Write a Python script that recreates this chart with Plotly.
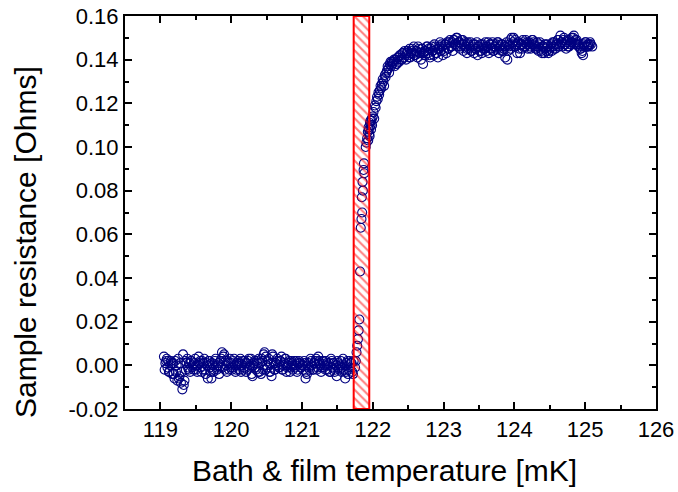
import plotly.graph_objects as go

# ---- data ----
x_normal = [
    119.05, 119.06, 119.07, 119.09, 119.10, 119.11, 119.13, 119.14, 119.15, 119.17,
    119.18, 119.20, 119.21, 119.22, 119.24, 119.25, 119.27, 119.28, 119.29, 119.31,
    119.32, 119.33, 119.35, 119.36, 119.38, 119.39, 119.41, 119.42, 119.44, 119.46,
    119.47, 119.49, 119.51, 119.52, 119.54, 119.55, 119.57, 119.59, 119.60, 119.62,
    119.64, 119.65, 119.67, 119.69, 119.70, 119.72, 119.74, 119.75, 119.77, 119.79,
    119.80, 119.82, 119.84, 119.86, 119.87, 119.89, 119.91, 119.92, 119.94, 119.96,
    119.98, 119.99, 120.01, 120.03, 120.05, 120.06, 120.08, 120.10, 120.12, 120.13,
    120.15, 120.17, 120.19, 120.21, 120.22, 120.24, 120.26, 120.28, 120.30, 120.31,
    120.33, 120.35, 120.37, 120.39, 120.40, 120.42, 120.44, 120.46, 120.48, 120.49,
    120.51, 120.53, 120.55, 120.57, 120.58, 120.60, 120.62, 120.64, 120.66, 120.67,
    120.69, 120.71, 120.73, 120.75, 120.77, 120.78, 120.80, 120.82, 120.84, 120.86,
    120.87, 120.89, 120.91, 120.93, 120.95, 120.96, 120.98, 121.00, 121.02, 121.04,
    121.05, 121.07, 121.09, 121.11, 121.13, 121.14, 121.16, 121.18, 121.20, 121.22,
    121.23, 121.25, 121.27, 121.29, 121.31, 121.32, 121.34, 121.36, 121.38, 121.40,
    121.41, 121.43, 121.45, 121.47, 121.49, 121.50, 121.52, 121.54, 121.56, 121.58,
    121.59, 121.61, 121.63, 121.65, 121.67, 121.68, 121.70, 121.72, 121.73,
    119.08, 119.12, 119.16, 119.19, 119.23, 119.26, 119.30, 119.34, 119.37, 119.40,
    119.43, 119.45, 119.48, 119.50, 119.53, 119.56, 119.58, 119.61, 119.63, 119.66,
    119.68, 119.71, 119.73, 119.76, 119.78, 119.81, 119.83, 119.85, 119.88, 119.90,
    119.93, 119.95, 119.97, 120.00, 120.02, 120.04, 120.07, 120.09, 120.11, 120.14,
    120.16, 120.18, 120.20, 120.23, 120.25, 120.27, 120.29, 120.32, 120.34, 120.36,
    120.38, 120.41, 120.43, 120.45, 120.47, 120.50, 120.52, 120.54, 120.56, 120.59,
    120.61, 120.63, 120.65, 120.68, 120.70, 120.72, 120.74, 120.76, 120.79, 120.81,
    120.83, 120.85, 120.88, 120.90, 120.92, 120.94, 120.97, 120.99, 121.01, 121.03,
    121.06, 121.08, 121.10, 121.12, 121.15, 121.17, 121.19, 121.21, 121.24, 121.26,
    121.28, 121.30, 121.33, 121.35, 121.37, 121.39, 121.42, 121.44, 121.46, 121.48,
    121.51, 121.53, 121.55, 121.57, 121.60, 121.62, 121.64, 121.66, 121.69, 121.71,
]
y_normal = [
    0.004, -0.002, 0.001, 0.003, -0.001, 0.002, -0.003, 0.000, 0.002, -0.004,
    0.001, -0.006, 0.002, -0.003, -0.007, 0.003, -0.005, 0.001, -0.008, -0.011,
    0.005, -0.009, 0.002, -0.002, 0.003, -0.001, 0.001, -0.003, 0.002, 0.000,
    -0.002, 0.003, 0.000, -0.003, 0.004, 0.001, -0.001, 0.002, -0.002, 0.003,
    -0.004, 0.001, -0.006, 0.002, -0.001, -0.006, 0.000, -0.003, 0.002, -0.001,
    -0.002, 0.001, -0.001, 0.003, 0.006, 0.004, -0.002, 0.002, -0.003, 0.001,
    0.003, -0.001, -0.002, 0.002, 0.000, -0.003, 0.001, 0.002, -0.002, 0.003,
    0.000, -0.002, 0.002, -0.003, 0.001, 0.002, -0.001, 0.003, -0.005, 0.000,
    0.002, -0.002, 0.001, 0.003, -0.003, -0.004, 0.002, 0.005, -0.002, 0.004,
    -0.001, 0.003, -0.003, -0.005, 0.005, 0.001, -0.002, 0.002, 0.000, -0.001,
    0.002, 0.004, -0.002, 0.001, 0.003, -0.003, 0.000, 0.002, -0.001, 0.001,
    -0.002, 0.002, 0.000, -0.003, 0.001, 0.002, -0.001, 0.000, -0.002, 0.001,
    -0.006, -0.004, 0.001, -0.002, 0.002, 0.000, -0.002, 0.001, 0.003, -0.001,
    0.004, 0.001, -0.003, 0.002, -0.001, 0.000, 0.002, -0.002, 0.001, -0.003,
    0.003, -0.001, 0.001, -0.002, -0.005, 0.002, -0.001, 0.000, -0.003, 0.003,
    -0.002, -0.006, 0.001, -0.004, 0.002, -0.001, 0.001, -0.004, 0.002,
    0.002, -0.003, 0.001, -0.004, 0.000, -0.006, -0.003, -0.007, 0.001, -0.002,
    0.002, -0.001, 0.001, -0.002, 0.000, 0.002, -0.003, 0.001, -0.002, 0.000,
    0.002, -0.003, 0.001, -0.002, 0.003, 0.000, -0.004, 0.002, -0.001, 0.005,
    0.000, 0.002, -0.002, 0.001, -0.001, 0.003, -0.002, 0.000, 0.001, -0.003,
    0.002, -0.001, 0.001, -0.002, 0.003, 0.000, -0.004, 0.001, -0.001, 0.002,
    -0.003, 0.001, 0.003, -0.002, 0.006, 0.000, 0.002, -0.003, 0.001, 0.004,
    -0.002, 0.001, 0.003, -0.001, 0.002, -0.002, 0.000, 0.003, -0.001, 0.001,
    -0.003, 0.002, 0.000, -0.001, 0.002, -0.002, 0.001, -0.001, 0.000, 0.002,
    -0.003, 0.000, -0.001, 0.003, -0.002, 0.001, 0.002, -0.002, 0.002, 0.000,
    -0.001, 0.002, -0.002, 0.001, 0.000, -0.003, 0.002, 0.001, -0.003, 0.000,
    0.001, -0.002, 0.002, -0.001, 0.000, -0.003, 0.002, -0.002, 0.001, -0.003,
]

x_transition = [
    121.75, 121.76, 121.77, 121.78, 121.79, 121.80, 121.81, 121.82, 121.83, 121.84,
    121.85, 121.845, 121.86, 121.855, 121.87, 121.875, 121.88, 121.90, 121.91, 121.92,
    121.93, 121.94, 121.95, 121.96, 121.97, 121.98, 121.99, 122.00, 122.02, 122.03,
    122.05, 122.06, 122.08, 122.09, 122.11, 122.12, 122.14, 122.15, 122.17, 122.18,
    122.20, 122.21, 122.23, 122.24, 122.26, 122.27,
    121.935, 121.945, 121.955, 121.965, 121.975, 121.985, 122.01, 122.04, 122.07, 122.10,
    122.13, 122.16, 122.19, 122.22, 122.25, 122.28,
]
y_transition = [
    -0.001, 0.002, 0.006, 0.009, 0.012, 0.016, 0.021, 0.043, 0.063, 0.067,
    0.070, 0.077, 0.080, 0.084, 0.0895, 0.0925, 0.088, 0.100, 0.102, 0.104,
    0.107, 0.109, 0.106, 0.111, 0.110, 0.112, 0.110, 0.114, 0.113, 0.119,
    0.121, 0.123, 0.125, 0.124, 0.128, 0.127, 0.131, 0.130, 0.133, 0.132,
    0.135, 0.137, 0.134, 0.138, 0.137, 0.139,
    0.103, 0.108, 0.105, 0.112, 0.108, 0.113, 0.116, 0.118, 0.122, 0.126,
    0.129, 0.128, 0.134, 0.136, 0.139, 0.138,
]

x_plateau = [
    122.29, 122.31, 122.32, 122.34, 122.35, 122.37, 122.39, 122.40, 122.42, 122.44,
    122.45, 122.47, 122.48, 122.50, 122.52, 122.53, 122.55, 122.57, 122.58, 122.60,
    122.61, 122.63, 122.65, 122.66, 122.68, 122.70, 122.71, 122.73, 122.74, 122.76,
    122.78, 122.79, 122.81, 122.83, 122.84, 122.86, 122.87, 122.89, 122.91, 122.92,
    122.94, 122.96, 122.97, 122.99, 123.00, 123.02, 123.04, 123.05, 123.07, 123.09,
    123.10, 123.12, 123.13, 123.15, 123.17, 123.18, 123.20, 123.22, 123.23, 123.25,
    123.26, 123.28, 123.30, 123.31, 123.33, 123.35, 123.36, 123.38, 123.39, 123.41,
    123.43, 123.44, 123.46, 123.48, 123.49, 123.51, 123.52, 123.54, 123.56, 123.57,
    123.59, 123.61, 123.62, 123.64, 123.65, 123.67, 123.69, 123.70, 123.72, 123.74,
    123.75, 123.77, 123.78, 123.80, 123.82, 123.83, 123.85, 123.87, 123.88, 123.90,
    123.91, 123.93, 123.95, 123.96, 123.98, 124.00, 124.01, 124.03, 124.04, 124.06,
    124.08, 124.09, 124.11, 124.13, 124.14, 124.16, 124.17, 124.19, 124.21, 124.22,
    124.24, 124.26, 124.27, 124.29, 124.30, 124.32, 124.34, 124.35, 124.37, 124.39,
    124.40, 124.42, 124.43, 124.45, 124.47, 124.48, 124.50, 124.52, 124.53, 124.55,
    124.56, 124.58, 124.60, 124.61, 124.63, 124.65, 124.66, 124.68, 124.69, 124.71,
    124.73, 124.74, 124.76, 124.78, 124.79, 124.81, 124.82, 124.84, 124.86, 124.87,
    124.89, 124.91, 124.92, 124.94, 124.95, 124.97, 124.99, 125.00, 125.02, 125.04,
    125.05, 125.07, 125.08, 125.10,
    122.30, 122.33, 122.36, 122.38, 122.41, 122.43, 122.46, 122.49, 122.51, 122.54,
    122.56, 122.59, 122.62, 122.64, 122.67, 122.69, 122.72, 122.75, 122.77, 122.80,
    122.82, 122.85, 122.88, 122.90, 122.93, 122.95, 122.98, 123.01, 123.03, 123.06,
    123.08, 123.11, 123.14, 123.16, 123.19, 123.21, 123.24, 123.27, 123.29, 123.32,
    123.34, 123.37, 123.40, 123.42, 123.45, 123.47, 123.50, 123.53, 123.55, 123.58,
    123.60, 123.63, 123.66, 123.68, 123.71, 123.73, 123.76, 123.79, 123.81, 123.84,
    123.86, 123.89, 123.92, 123.94, 123.97, 123.99, 124.02, 124.05, 124.07, 124.10,
    124.12, 124.15, 124.18, 124.20, 124.23, 124.25, 124.28, 124.31, 124.33, 124.36,
    124.38, 124.41, 124.44, 124.46, 124.49, 124.51, 124.54, 124.57, 124.59, 124.62,
    124.64, 124.67, 124.70, 124.72, 124.75, 124.77, 124.80, 124.83, 124.85, 124.88,
    124.90, 124.93, 124.96, 124.98, 125.01, 125.03, 125.06,
]
y_plateau = [
    0.139, 0.137, 0.140, 0.138, 0.141, 0.139, 0.142, 0.140, 0.143, 0.141,
    0.144, 0.140, 0.143, 0.142, 0.145, 0.141, 0.144, 0.143, 0.146, 0.142,
    0.144, 0.141, 0.145, 0.143, 0.140, 0.145, 0.138, 0.144, 0.142, 0.146,
    0.143, 0.145, 0.141, 0.146, 0.144, 0.142, 0.147, 0.143, 0.145, 0.141,
    0.146, 0.144, 0.147, 0.142, 0.145, 0.147, 0.143, 0.148, 0.145, 0.149,
    0.146, 0.148, 0.144, 0.149, 0.147, 0.150, 0.146, 0.148, 0.145, 0.149,
    0.147, 0.144, 0.148, 0.146, 0.143, 0.147, 0.145, 0.148, 0.144, 0.146,
    0.143, 0.147, 0.145, 0.142, 0.146, 0.144, 0.147, 0.143, 0.146, 0.145,
    0.148, 0.144, 0.146, 0.143, 0.147, 0.145, 0.148, 0.144, 0.146, 0.147,
    0.145, 0.148, 0.143, 0.146, 0.144, 0.147, 0.145, 0.141, 0.146, 0.140,
    0.144, 0.147, 0.145, 0.150, 0.148, 0.146, 0.149, 0.147, 0.143, 0.148,
    0.143, 0.147, 0.145, 0.148, 0.146, 0.149, 0.147, 0.145, 0.148, 0.146,
    0.147, 0.149, 0.148, 0.146, 0.145, 0.148, 0.144, 0.147, 0.145, 0.143,
    0.146, 0.143, 0.147, 0.144, 0.146, 0.143, 0.145, 0.147, 0.144, 0.146,
    0.148, 0.145, 0.147, 0.149, 0.146, 0.151, 0.148, 0.146, 0.149, 0.147,
    0.145, 0.148, 0.146, 0.149, 0.147, 0.150, 0.148, 0.151, 0.149, 0.147,
    0.148, 0.146, 0.147, 0.145, 0.143, 0.142, 0.146, 0.148, 0.146, 0.147,
    0.146, 0.148, 0.147, 0.146,
    0.140, 0.138, 0.141, 0.142, 0.140, 0.143, 0.142, 0.144, 0.141, 0.143,
    0.145, 0.142, 0.144, 0.146, 0.143, 0.145, 0.143, 0.144, 0.146, 0.142,
    0.145, 0.144, 0.146, 0.143, 0.145, 0.148, 0.146, 0.144, 0.147, 0.145,
    0.148, 0.146, 0.149, 0.147, 0.150, 0.148, 0.146, 0.149, 0.147, 0.145,
    0.148, 0.146, 0.144, 0.147, 0.145, 0.148, 0.146, 0.144, 0.147, 0.145,
    0.146, 0.148, 0.145, 0.147, 0.144, 0.146, 0.148, 0.145, 0.147, 0.144,
    0.146, 0.148, 0.146, 0.149, 0.147, 0.150, 0.146, 0.148, 0.145, 0.147,
    0.149, 0.146, 0.148, 0.147, 0.145, 0.149, 0.147, 0.145, 0.146, 0.148,
    0.144, 0.146, 0.145, 0.147, 0.144, 0.146, 0.148, 0.145, 0.147, 0.149,
    0.147, 0.148, 0.150, 0.147, 0.149, 0.146, 0.148, 0.150, 0.147, 0.149,
    0.147, 0.145, 0.144, 0.147, 0.148, 0.146, 0.147,
]

band_limits = [121.73, 121.95]          # hatched transition region [mK]
x_range = [118.5, 126.0]
y_range = [-0.02, 0.16]
y_tick_vals = [-0.02, 0.00, 0.02, 0.04, 0.06, 0.08, 0.10, 0.12, 0.14, 0.16]
y_tick_text = ["-0.02", "0.00", "0.02", "0.04", "0.06", "0.08", "0.10", "0.12", "0.14", "0.16"]
x_tick_vals = [119, 120, 121, 122, 123, 124, 125, 126]
x_tick_text = ["119", "120", "121", "122", "123", "124", "125", "126"]
x_title = "Bath & film temperature [mK]"
y_title = "Sample resistance [Ohms]"

x_all = x_normal + x_transition + x_plateau
y_all = y_normal + y_transition + y_plateau

FONT = "Liberation Sans, Arial, Helvetica, sans-serif"
NAVY = "#000080"
RED = "#ff0000"
W, H = 678, 492
ML, MR, MT, MB = 125, 22, 16, 83

fig = go.Figure()

fig.add_trace(go.Scatter(
    x=x_all, y=y_all, mode="markers",
    marker=dict(symbol="circle-open", size=9, color=NAVY, line=dict(width=1.1, color=NAVY)),
    showlegend=False, hoverinfo="x+y",
))

bx = [band_limits[0], band_limits[1], band_limits[1], band_limits[0], band_limits[0]]
by = [y_range[0], y_range[0], y_range[1], y_range[1], y_range[0]]
fig.add_trace(go.Scatter(
    x=bx, y=by, mode="lines", fill="toself",
    fillcolor="rgba(0,0,0,0)",
    fillpattern=dict(shape="\\", fgcolor=RED, bgcolor="rgba(0,0,0,0)", size=6, solidity=0.35),
    line=dict(color=RED, width=2),
    showlegend=False, hoverinfo="skip",
))

axis_common = dict(
    showline=True, linecolor="black", linewidth=2, mirror="ticks",
    ticks="inside", ticklen=7, tickwidth=1.5, tickcolor="black",
    showgrid=False, zeroline=False, automargin=False,
    tickfont=dict(family=FONT, size=22, color="black"),
)

fig.update_xaxes(
    range=x_range, tickmode="array", tickvals=x_tick_vals, ticktext=x_tick_text,
    minor=dict(tickmode="linear", tick0=118.5, dtick=0.5, ticks="inside", ticklen=4,
               tickwidth=1.5, tickcolor="black"),
    **axis_common,
)
fig.update_yaxes(
    range=y_range, tickmode="array", tickvals=y_tick_vals, ticktext=y_tick_text,
    minor=dict(tickmode="linear", tick0=-0.02, dtick=0.01, ticks="inside", ticklen=4,
               tickwidth=1.5, tickcolor="black"),
    **axis_common,
)

# axis titles placed as annotations (paper coords) to match the reference layout
plot_h = H - MT - MB
plot_w = W - ML - MR
fig.add_annotation(
    text=x_title, xref="paper", yref="paper",
    x=(384 - ML) / plot_w, y=-(470 - (H - MB)) / plot_h,
    xanchor="center", yanchor="middle", showarrow=False,
    font=dict(family=FONT, size=30, color="black"),
)
fig.add_annotation(
    text=y_title, xref="paper", yref="paper",
    x=-(ML - 25) / plot_w, y=1 - (242 - MT) / plot_h,
    xanchor="center", yanchor="middle", textangle=-90, showarrow=False,
    font=dict(family=FONT, size=30, color="black"),
)

fig.update_layout(
    width=W, height=H,
    margin=dict(l=ML, r=MR, t=MT, b=MB),
    paper_bgcolor="white", plot_bgcolor="white",
    font=dict(family=FONT, color="black"),
)

fig.write_html("out.html")
